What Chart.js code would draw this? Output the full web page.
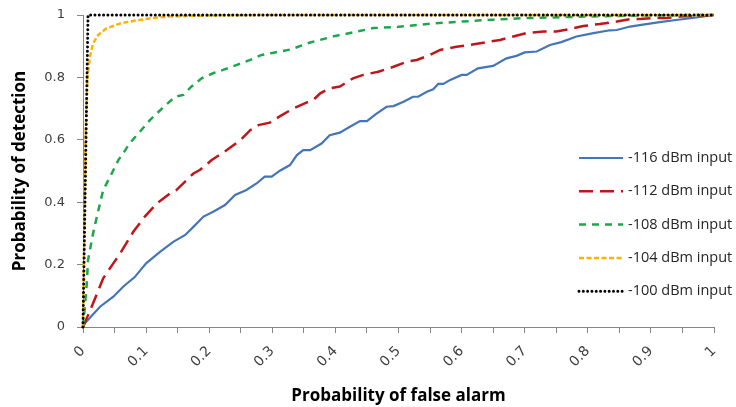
<!DOCTYPE html>
<html>
<head>
<meta charset="utf-8">
<script src="https://cdn.jsdelivr.net/npm/chart.js@4"></script>
<style>
  body { margin: 0; background: #fff; }
  #wrap { width: 736px; height: 407px; }
</style>
</head>
<body>
<div id="wrap"><canvas id="rocChart" width="736" height="407"></canvas></div>
<script>
// ROC curves, values
var seriesNames = ["-116 dBm input", "-112 dBm input", "-108 dBm input", "-104 dBm input", "-100 dBm input"];

var fa116 = [0, 0.003, 0.027, 0.048, 0.064, 0.082, 0.10, 0.122, 0.143, 0.162, 0.175, 0.191, 0.207, 0.225, 0.241, 0.259, 0.275, 0.288, 0.299, 0.312, 0.328, 0.339, 0.349, 0.36, 0.378, 0.391, 0.407, 0.423, 0.439, 0.45, 0.463, 0.481, 0.492, 0.508, 0.523, 0.531, 0.545, 0.555, 0.563, 0.571, 0.582, 0.60, 0.608, 0.626, 0.65, 0.671, 0.687, 0.70, 0.719, 0.74, 0.758, 0.782, 0.809, 0.835, 0.846, 0.867, 0.89, 0.914, 0.94, 0.972, 1];
var pd116 = [0, 0.012, 0.065, 0.097, 0.13, 0.16, 0.204, 0.241, 0.273, 0.295, 0.321, 0.354, 0.370, 0.391, 0.423, 0.439, 0.46, 0.482, 0.482, 0.501, 0.519, 0.551, 0.567, 0.567, 0.588, 0.615, 0.623, 0.642, 0.66, 0.66, 0.681, 0.706, 0.708, 0.722, 0.738, 0.738, 0.754, 0.762, 0.779, 0.779, 0.792, 0.808, 0.808, 0.829, 0.837, 0.861, 0.869, 0.88, 0.883, 0.904, 0.913, 0.931, 0.942, 0.951, 0.952, 0.963, 0.97, 0.977, 0.984, 0.992, 1];

var fa112 = [0, 0.016, 0.032, 0.048, 0.059, 0.08, 0.098, 0.117, 0.138, 0.148, 0.175, 0.185, 0.204, 0.228, 0.25, 0.265, 0.278, 0.296, 0.315, 0.333, 0.354, 0.365, 0.376, 0.391, 0.407, 0.428, 0.444, 0.468, 0.492, 0.513, 0.529, 0.55, 0.566, 0.592, 0.613, 0.64, 0.661, 0.682, 0.703, 0.73, 0.75, 0.772, 0.793, 0.819, 0.846, 0.867, 0.883, 0.9, 0.925, 0.946, 0.97, 1];
var pd112 = [0, 0.076, 0.156, 0.204, 0.236, 0.306, 0.354, 0.396, 0.428, 0.439, 0.492, 0.503, 0.535, 0.567, 0.60, 0.631, 0.647, 0.655, 0.679, 0.70, 0.719, 0.728, 0.749, 0.765, 0.771, 0.797, 0.808, 0.818, 0.834, 0.85, 0.856, 0.872, 0.888, 0.898, 0.904, 0.913, 0.92, 0.931, 0.942, 0.947, 0.947, 0.955, 0.965, 0.971, 0.979, 0.987, 0.987, 0.99, 0.99, 0.995, 0.997, 1];

var fa108 = [0, 0.003, 0.006, 0.008, 0.016, 0.022, 0.032, 0.043, 0.056, 0.067, 0.074, 0.088, 0.106, 0.125, 0.146, 0.159, 0.172, 0.188, 0.207, 0.222, 0.244, 0.265, 0.283, 0.302, 0.33, 0.36, 0.4, 0.43, 0.46, 0.5, 0.55, 0.6, 0.65, 0.7, 0.8, 0.9, 1];
var pd108 = [0, 0.065, 0.14, 0.215, 0.30, 0.354, 0.439, 0.482, 0.535, 0.567, 0.589, 0.621, 0.663, 0.70, 0.738, 0.744, 0.771, 0.797, 0.814, 0.824, 0.84, 0.856, 0.872, 0.879, 0.89, 0.912, 0.933, 0.945, 0.958, 0.962, 0.972, 0.979, 0.985, 0.99, 0.995, 0.999, 1];

var fa104 = [0, 0.002, 0.004, 0.007, 0.011, 0.016, 0.024, 0.037, 0.059, 0.08, 0.106, 0.133, 0.164, 0.22, 0.3, 1];
var pd104 = [0, 0.3, 0.6, 0.8, 0.866, 0.909, 0.936, 0.957, 0.973, 0.981, 0.989, 0.995, 0.997, 0.999, 1, 1];

var fa100 = [0, 0.008, 1];
var pd100 = [0, 1, 1];

var xTicks = [0, 0.1, 0.2, 0.3, 0.4, 0.5, 0.6, 0.7, 0.8, 0.9, 1];
var yTicks = [0, 0.2, 0.4, 0.6, 0.8, 1];

function pts(xs, ys) {
    return xs.map(function(x, i) { return { x: x, y: ys[i] }; });
}

// legend drawn inside plot, right side
var sideLegend = {
    id: 'sideLegend',
    afterDatasetsDraw: function(chart) {
        var ctx = chart.ctx;
        var a = chart.chartArea;
        chart.data.datasets.forEach(function(ds, i) {
            var y = a.top + 143 + i * 33.3;
            ctx.save();
            ctx.strokeStyle = ds.borderColor;
            ctx.lineWidth = ds.borderWidth;
            ctx.setLineDash(ds.borderDash || []);
            ctx.lineCap = ds.borderCapStyle || 'butt';
            ctx.beginPath();
            ctx.moveTo(a.right - 135, y);
            ctx.lineTo(a.right - 91, y);
            ctx.stroke();
            ctx.setLineDash([]);
            ctx.fillStyle = '#262626';
            ctx.font = '14.5px "Open Sans"';
            ctx.textBaseline = 'middle';
            ctx.fillText(ds.label, a.right - 86, y);
            ctx.restore();
        });
    }
};

var ctx = document.getElementById('rocChart');
new Chart(ctx, {
    type: 'line',
    data: {
        datasets: [
            { label: seriesNames[0], data: pts(fa116, pd116), borderColor: '#4475B8', borderWidth: 2.2, order: 4 },
            { label: seriesNames[1], data: pts(fa112, pd112), borderColor: '#C0161A', borderWidth: 2.5, borderDash: [14, 7], order: 3 },
            { label: seriesNames[2], data: pts(fa108, pd108), borderColor: '#1EA64A', borderWidth: 2.5, borderDash: [7, 6], order: 2 },
            { label: seriesNames[3], data: pts(fa104, pd104), borderColor: '#FFB300', borderWidth: 2.5, borderDash: [5, 2.5], order: 1 },
            { label: seriesNames[4], data: pts(fa100, pd100), borderColor: '#000000', borderWidth: 3, borderDash: [0.01, 4.3], borderCapStyle: 'round', order: 0 }
        ]
    },
    options: {
        responsive: false,
        animation: false,
        layout: { padding: { top: 15, right: 22, left: 0, bottom: 0 } },
        elements: {
            point: { radius: 0 },
            line: { tension: 0, fill: false }
        },
        datasets: { line: { clip: false } },
        plugins: {
            legend: { display: false },
            tooltip: { enabled: false }
        },
        scales: {
            x: {
                type: 'linear',
                min: 0,
                max: 1,
                afterFit: function(s) { s.height = 80; },
                afterBuildTicks: function(s) {
                    var t = [];
                    for (var i = 0; i <= 20; i++) t.push({ value: i / 20 });
                    s.ticks = t;
                },
                grid: { drawOnChartArea: false, drawTicks: true, tickLength: 6, color: '#868686' },
                border: { color: '#868686', width: 1 },
                ticks: {
                    minRotation: 45,
                    maxRotation: 45,
                    autoSkip: false,
                    padding: 10,
                    color: '#404040',
                    font: { family: 'DejaVu Sans', size: 14 },
                    callback: function(v) {
                        var r = Math.round(v * 10) / 10;
                        return xTicks.indexOf(r) >= 0 && Math.abs(v - r) < 1e-6 ? String(r) : '';
                    }
                },
                title: {
                    display: true,
                    text: 'Probability of false alarm',
                    color: '#000',
                    font: { family: 'Open Sans', size: 17, weight: 'bold' },
                    padding: { top: 0, bottom: 1 }
                }
            },
            y: {
                type: 'linear',
                min: 0,
                max: 1,
                afterFit: function(s) {
                    s.width = 83;
                    s.paddingTop = 0;
                    s.paddingBottom = 0;
                },
                afterBuildTicks: function(s) {
                    s.ticks = yTicks.map(function(v) { return { value: v }; });
                },
                grid: { drawOnChartArea: false, drawTicks: true, tickLength: 6, color: '#868686' },
                border: { color: '#868686', width: 1 },
                ticks: {
                    padding: 12,
                    color: '#404040',
                    font: { family: 'DejaVu Sans', size: 13 },
                    callback: function(v) { return String(v); }
                },
                title: {
                    display: true,
                    text: 'Probability of detection',
                    color: '#000',
                    font: { family: 'Open Sans', size: 17, weight: 'bold' },
                    padding: { top: 10, bottom: 0 }
                }
            }
        }
    },
    plugins: [sideLegend]
});
</script>
</body>
</html>
